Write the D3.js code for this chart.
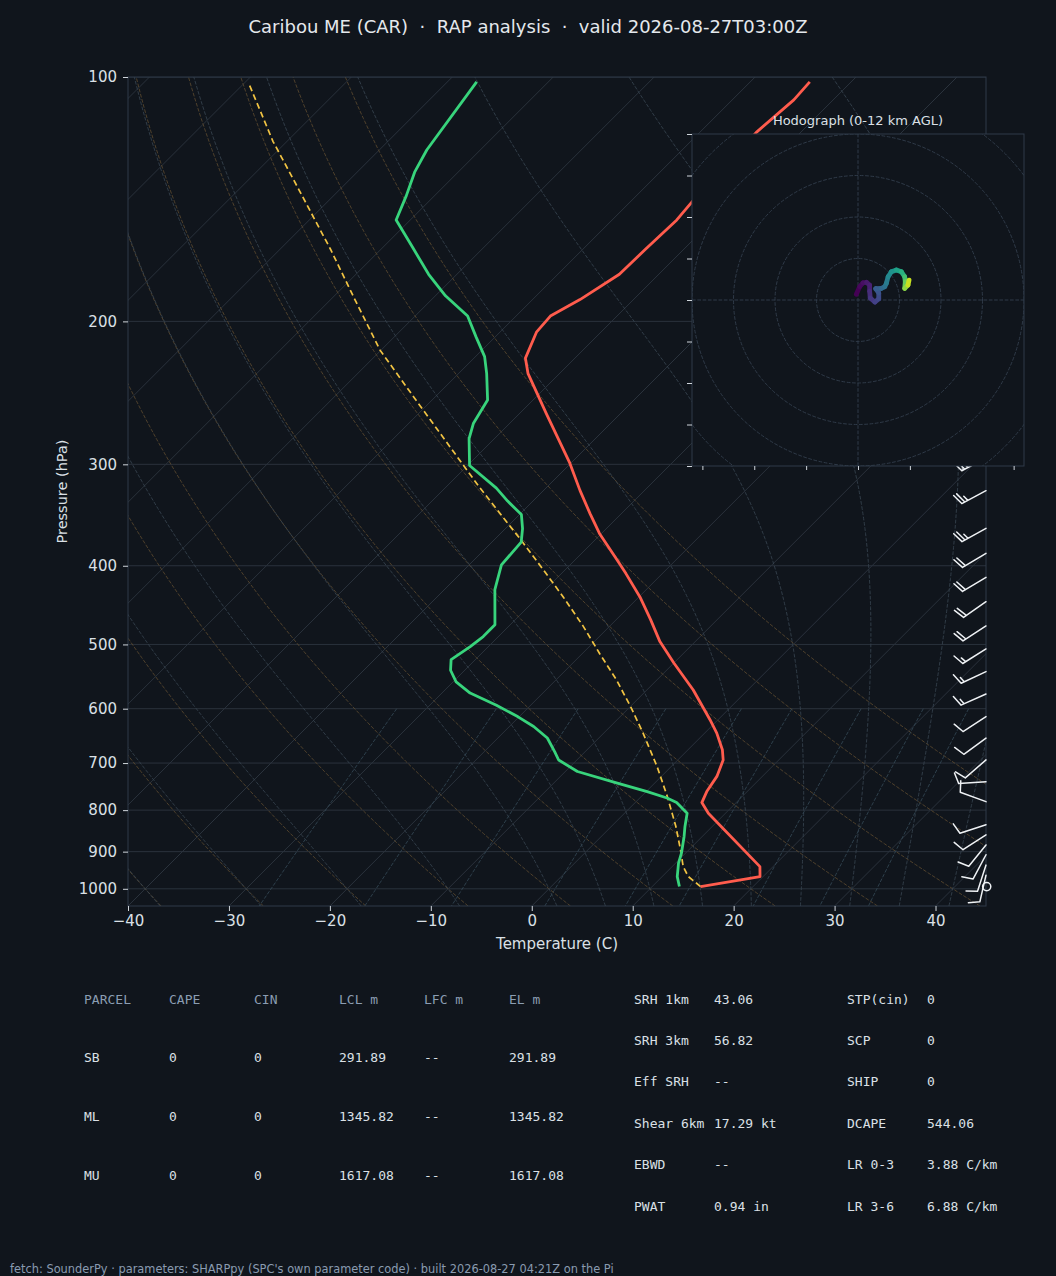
<!DOCTYPE html>
<html>
<head>
<meta charset="utf-8">
<script src="https://cdn.jsdelivr.net/npm/d3@7"></script>
<style>
  body { margin: 0; background: #10151c; }
  svg { display: block; }
</style>
</head>
<body>
<svg id="fig" width="1056" height="1276"></svg>
<script>
// sounding values
const tempP = [993.7, 966, 939, 807, 783, 759, 727, 694, 674, 643, 619, 569, 527, 496, 466, 437, 409, 393, 365, 345,
  323, 299, 260, 232, 222, 206, 197, 188, 175, 163, 150, 142, 129, 117, 106.7, 101.4];
const tempT = [14.8, 19.7, 18.7, 8.3, 6.6, 6.0, 5.5, 4.5, 3.4, 1.2, -0.8, -5.4, -10.0, -13.5, -16.6, -19.9, -23.6, -25.9, -30.2, -33.1,
  -36.4, -40.1, -47.3, -53.1, -54.9, -56.4, -56.6, -55.3, -53.9, -53.8, -53.6, -53.9, -54.2, -54.4, -53.9, -54.1];

const dewP = [993.7, 966, 930, 904, 862, 838, 807, 783, 773, 759, 741, 717, 694, 678, 652, 631, 614, 594, 574, 556,
  538, 522, 503, 489, 473, 428, 399, 374, 360, 346, 333, 321, 301, 279, 267, 250, 232, 221, 209, 197,
  186, 175, 162, 150, 140, 131, 123, 101.4];
const dewT = [12.7, 11.5, 10.3, 9.6, 8.2, 7.3, 6.2, 4.1, 2.7, 0.1, -3.7, -8.8, -11.8, -13.0, -15.1, -17.6, -20.1, -23.4, -27.2, -29.7,
  -31.4, -32.4, -31.8, -31.5, -31.5, -35.0, -36.8, -37.1, -38.3, -39.8, -42.5, -44.9, -49.8, -52.5, -53.6, -54.5, -57.2, -59.1, -61.9, -64.8,
  -69.0, -72.8, -77.1, -81.4, -82.8, -84.3, -85.3, -87.1];

const parcelP = [993.7, 966, 939, 896, 838, 770, 707, 643, 596, 553, 513, 475, 437, 405, 372, 320, 250, 217, 188, 163, 138, 120, 102.3];
const parcelT = [14.8, 12.6, 11.1, 9.2, 6.4, 2.6, -1.4, -6.1, -10.0, -14.0, -18.3, -22.6, -27.5, -32.1, -37.3, -46.7, -61.6, -70.1, -77.6, -85.0, -93.9, -101.4, -109.3];

// wind barbs (direction deg, speed kt)
const barbP = [294.6, 323.3, 359.7, 386.1, 413.3, 442.9, 474.5, 506.5, 540.1, 575.4, 613.6, 652.3, 693.8, 738, 781, 834, 858, 883, 908, 935, 962, 993.7];
const barbDir = [242, 242, 241, 239, 239, 235, 237, 238, 245, 246, 237, 234, 229, 266, 290, 252, 237, 219, 208, 198, 193, 0];
const barbSpd = [25, 25, 25, 20, 20, 20, 20, 15, 15, 15, 10, 10, 10, 10, 10, 10, 10, 10, 10, 10, 10, 0];

// hodograph trace (kt) and height (km)
const hodoU = [-0.8, 0.8, 2.4, 4.1, 5.6, 5.6, 5.9, 8.1, 10.0, 10.0, 8.5, 11.3, 12.9, 13.7, 14.5, 16.1, 18.5, 20.9, 22.5, 22.8, 22.5, 24.1, 24.6];
const hodoV = [2.8, 6.4, 8.3, 8.5, 7.2, 4.3, 1.0, -1.0, 0.5, 3.4, 5.5, 5.6, 6.4, 8.1, 11.2, 13.6, 14.5, 13.6, 11.2, 8.8, 5.6, 7.2, 9.6];
const hodoZ = [0, 0.25, 0.5, 0.8, 1.1, 1.5, 1.9, 2.3, 2.7, 3.1, 3.5, 4.0, 4.5, 5.0, 5.6, 6.2, 6.9, 7.6, 8.4, 9.2, 10.0, 11.0, 12.0];

// ticks
const pTicks = [100, 200, 300, 400, 500, 600, 700, 800, 900, 1000];
const tTicks = [-40, -30, -20, -10, 0, 10, 20, 30, 40];
const hodoYTicks = [-80, -60, -40, -20, 0, 20, 40, 60, 80];
const hodoXTicks = [-75, -50, -25, 0, 25, 50, 75];
const hodoRings = [20, 40, 60, 80, 100];

// background line families
const dryT0 = [-40, -30, -20, -10, 0, 10, 20, 30, 40, 50, 60];
const moistT0 = [-40, -30, -20, -10, 0, 5, 10, 15, 20, 25, 30, 35, 40, 45];
const mixRatios = [0.0004, 0.001, 0.002, 0.004, 0.007, 0.01, 0.016, 0.024, 0.032];

// parameter tables
const parcelHeader = ["PARCEL", "CAPE", "CIN", "LCL m", "LFC m", "EL m"];
const parcelRows = [
  ["SB", "0", "0", "291.89", "--", "291.89"],
  ["ML", "0", "0", "1345.82", "--", "1345.82"],
  ["MU", "0", "0", "1617.08", "--", "1617.08"]
];
const indexLeft = [["SRH 1km", "43.06"], ["SRH 3km", "56.82"], ["Eff SRH", "--"], ["Shear 6km", "17.29 kt"], ["EBWD", "--"], ["PWAT", "0.94 in"]];
const indexRight = [["STP(cin)", "0"], ["SCP", "0"], ["SHIP", "0"], ["DCAPE", "544.06"], ["LR 0-3", "3.88 C/km"], ["LR 3-6", "6.88 C/km"]];

const titleText = "Caribou ME (CAR)  \u00b7  RAP analysis  \u00b7  valid 2026-08-27T03:00Z";
const footerText = "fetch: SounderPy \u00b7 parameters: SHARPpy (SPC's own parameter code) \u00b7 built 2026-08-27 04:21Z on the Pi";

const W = 1056, H = 1276;
const BG = "#10151c";
const SPINE = "#2f3a48";
const TXT = "#dbe0e6";
const SANS = "DejaVu Sans, sans-serif";
const MONO = "DejaVu Sans Mono, monospace";

const svg = d3.select("#fig");
svg.append("rect").attr("width", W).attr("height", H).attr("fill", BG);

// skew-T scales
const x = d3.scaleLinear().domain([-40, 45]).range([128, 986]);
const y = d3.scaleLog().domain([1050, 100]).range([906, 77]);
const x0 = x.range()[0], x1 = x.range()[1], yB = y.range()[0], yT = y.range()[1];
const sx = (T, p) => x(T) + (yB - y(p)); // isotherms at 45 degrees

const defs = svg.append("defs");
defs.append("clipPath").attr("id", "skewClip").append("rect")
  .attr("x", x0).attr("y", yT).attr("width", x1 - x0).attr("height", yB - yT);

const line = d3.line().x(d => sx(d[1], d[0])).y(d => y(d[0]));

// thermodynamics for the reference lines
const Rd = 287.04749, Lv = 2.50084e6, Cp = 1004.6662, eps = 0.622;
const es = Tk => 6.112 * Math.exp(17.67 * (Tk - 273.15) / (Tk - 29.65));
function dTdp(p, Tk) {
  const e = es(Tk), rs = eps * e / (p - e);
  return ((Rd * Tk + Lv * rs) / (Cp + Lv * Lv * rs * eps / (Rd * Tk * Tk))) / p;
}
function rk4(p, T, h) {
  const k1 = dTdp(p, T), k2 = dTdp(p + h / 2, T + h * k1 / 2),
        k3 = dTdp(p + h / 2, T + h * k2 / 2), k4 = dTdp(p + h, T + h * k3);
  return T + h * (k1 + 2 * k2 + 2 * k3 + k4) / 6;
}
function moistAdiabat(t0) {
  const down = [];
  let p = 1000, T = t0 + 273.15;
  while (p < 1050) { T = rk4(p, T, 5); p += 5; down.push([p, T - 273.15]); }
  const up = [[1000, t0]];
  p = 1000; T = t0 + 273.15;
  while (p > 100) { T = rk4(p, T, -5); p -= 5; up.push([p, T - 273.15]); }
  return down.reverse().concat(up);
}
const pLevels = d3.range(0, 81).map(i => 1050 * Math.pow(100 / 1050, i / 80));

const bgLines = svg.append("g").attr("clip-path", "url(#skewClip)");

// pressure grid
bgLines.selectAll(".pgrid").data(pTicks).join("line")
  .attr("x1", x0).attr("x2", x1).attr("y1", d => y(d)).attr("y2", d => y(d))
  .attr("stroke", "#2a323c").attr("stroke-width", 1);

// isotherms
bgLines.selectAll(".iso").data(d3.range(-150, 50, 10)).join("line")
  .attr("x1", d => sx(d, 1050)).attr("y1", yB).attr("x2", d => sx(d, 100)).attr("y2", yT)
  .attr("stroke", "#2a323c").attr("stroke-width", 1);

// dry adiabats
bgLines.selectAll(".dry").data(dryT0).join("path")
  .attr("d", t0 => line(pLevels.map(p => [p, (t0 + 273.15) * Math.pow(p / 1000, Rd / Cp) - 273.15])))
  .attr("fill", "none").attr("stroke", "#5e4b30").attr("stroke-width", 1)
  .attr("stroke-dasharray", "3.7,1.6").attr("opacity", 0.8);

// moist adiabats
bgLines.selectAll(".moist").data(moistT0).join("path")
  .attr("d", t0 => line(moistAdiabat(t0)))
  .attr("fill", "none").attr("stroke", "#36434f").attr("stroke-width", 1)
  .attr("stroke-dasharray", "3.7,1.6").attr("opacity", 0.85);

// mixing ratio lines
const mixLevels = d3.range(0, 21).map(i => 600 + i * 22.5);
bgLines.selectAll(".mix").data(mixRatios).join("path")
  .attr("d", w => line(mixLevels.map(p => {
    const e = p * w / (eps + w), l = Math.log(e / 6.112);
    return [p, 243.5 * l / (17.67 - l)];
  })))
  .attr("fill", "none").attr("stroke", "#334753").attr("stroke-width", 1)
  .attr("stroke-dasharray", "3.7,1.6").attr("opacity", 0.85);

// profiles
const prof = svg.append("g").attr("clip-path", "url(#skewClip)");
prof.append("path").attr("d", line(parcelP.map((p, i) => [p, parcelT[i]])))
  .attr("fill", "none").attr("stroke", "#f2c443").attr("stroke-width", 1.7).attr("stroke-dasharray", "6,3.5");
prof.append("path").attr("d", line(tempP.map((p, i) => [p, tempT[i]])))
  .attr("fill", "none").attr("stroke", "#ff5c4d").attr("stroke-width", 2.8).attr("stroke-linejoin", "round");
prof.append("path").attr("d", line(dewP.map((p, i) => [p, dewT[i]])))
  .attr("fill", "none").attr("stroke", "#38d47c").attr("stroke-width", 2.8).attr("stroke-linejoin", "round");

// spines
svg.append("rect").attr("x", x0).attr("y", yT).attr("width", x1 - x0).attr("height", yB - yT)
  .attr("fill", "none").attr("stroke", SPINE).attr("stroke-width", 1);

// axes (font set after the axis call, which resets it)
function styleAxis(g) {
  g.attr("font-size", 15).attr("font-family", SANS);
  g.select(".domain").remove();
  g.selectAll(".tick line").attr("stroke", "#cfd5db");
  g.selectAll(".tick text").attr("fill", TXT);
}
svg.append("g").attr("transform", `translate(${x0},0)`)
  .call(d3.axisLeft(y).tickValues(pTicks).tickFormat(d3.format("d")).tickSize(5).tickPadding(6))
  .call(styleAxis);
svg.append("g").attr("transform", `translate(0,${yB})`)
  .call(d3.axisBottom(x).tickValues(tTicks).tickSize(5).tickPadding(4))
  .call(styleAxis);

svg.append("text").attr("transform", `translate(63,${(yT + yB) / 2}) rotate(-90)`)
  .attr("text-anchor", "middle").attr("dominant-baseline", "middle")
  .attr("font-family", SANS).attr("font-size", 14.5).attr("fill", TXT).text("Pressure (hPa)");
svg.append("text").attr("x", (x0 + x1) / 2).attr("y", 949)
  .attr("text-anchor", "middle").attr("font-family", SANS).attr("font-size", 15).attr("fill", TXT)
  .text("Temperature (C)");

// wind barbs at the right edge
function barbPath(bx, by, dir, spd) {
  const L = 27.4, Hh = 0.4 * L, Ww = 0.25 * L, sp = 0.125 * L;
  const b = dir * Math.PI / 180;
  const s = [Math.sin(b), -Math.cos(b)];
  const side = [Math.cos(b), Math.sin(b)];
  const P = d => [bx + s[0] * d, by + s[1] * d];
  const r5 = 5 * Math.round(spd / 5);
  const full = Math.floor((r5 % 50) / 10), half = (r5 % 10) >= 5;
  let path = `M${bx},${by}L${P(L).join(",")}`;
  let o = L;
  for (let i = 0; i < full; i++) {
    const a = P(o), e = P(o + Ww / 2);
    path += `M${a.join(",")}L${e[0] + side[0] * Hh},${e[1] + side[1] * Hh}`;
    o -= sp;
  }
  if (half) {
    if (o === L) o -= 1.5 * sp;
    const a = P(o), e = P(o + Ww / 4);
    path += `M${a.join(",")}L${e[0] + side[0] * Hh / 2},${e[1] + side[1] * Hh / 2}`;
  }
  return path;
}
const barbs = svg.append("g").attr("stroke", "#eef1f4").attr("stroke-width", 1.5).attr("fill", "none")
  .attr("stroke-linecap", "round");
barbP.forEach((p, i) => {
  if (Math.round(barbSpd[i] / 5) === 0) {
    barbs.append("circle").attr("cx", x1 + 0.7).attr("cy", y(p)).attr("r", 4.1);
  } else {
    barbs.append("path").attr("d", barbPath(x1, y(p), barbDir[i], barbSpd[i]));
  }
});

// hodograph inset
const hx = d3.scaleLinear().domain([-80, 80]).range([692, 1024]);
const hy = d3.scaleLinear().domain([-80, 80]).range([466, 134]);
defs.append("clipPath").attr("id", "hodoClip").append("rect")
  .attr("x", hx(-80)).attr("y", hy(80)).attr("width", hx(80) - hx(-80)).attr("height", hy(-80) - hy(80));
const hodo = svg.append("g");
hodo.append("rect").attr("x", hx(-80)).attr("y", hy(80)).attr("width", hx(80) - hx(-80)).attr("height", hy(-80) - hy(80))
  .attr("fill", BG);
const hgrid = hodo.append("g").attr("clip-path", "url(#hodoClip)")
  .attr("stroke", "#2f3a48").attr("stroke-width", 1).attr("stroke-dasharray", "3.7,1.6").attr("fill", "none");
hgrid.selectAll("circle").data(hodoRings).join("circle")
  .attr("cx", hx(0)).attr("cy", hy(0)).attr("r", d => hx(d) - hx(0));
hgrid.append("line").attr("x1", hx(-80)).attr("x2", hx(80)).attr("y1", hy(0)).attr("y2", hy(0));
hgrid.append("line").attr("x1", hx(0)).attr("x2", hx(0)).attr("y1", hy(-80)).attr("y2", hy(80));

const hodoPts = hodoU.map((u, i) => [u, hodoV[i], hodoZ[i]]);
hodo.append("g").attr("clip-path", "url(#hodoClip)")
  .selectAll("line").data(d3.pairs(hodoPts)).join("line")
  .attr("x1", d => hx(d[0][0])).attr("y1", d => hy(d[0][1]))
  .attr("x2", d => hx(d[1][0])).attr("y2", d => hy(d[1][1]))
  .attr("stroke", d => d3.interpolateViridis(d[0][2] / 12))
  .attr("stroke-width", 4.8).attr("stroke-linecap", "round");

hodo.append("rect").attr("x", hx(-80)).attr("y", hy(80)).attr("width", hx(80) - hx(-80)).attr("height", hy(-80) - hy(80))
  .attr("fill", "none").attr("stroke", SPINE).attr("stroke-width", 1);
hodo.append("g").attr("transform", `translate(${hx(-80)},0)`)
  .call(d3.axisLeft(hy).tickValues(hodoYTicks).tickFormat("").tickSize(5))
  .call(styleAxis);
hodo.append("g").attr("transform", `translate(0,${hy(-80)})`)
  .call(d3.axisBottom(hx).tickValues(hodoXTicks).tickFormat("").tickSize(4))
  .call(styleAxis);
hodo.append("text").attr("x", hx(0)).attr("y", 124.5).attr("text-anchor", "middle")
  .attr("font-family", SANS).attr("font-size", 13).attr("fill", TXT).text("Hodograph (0-12 km AGL)");

// title
svg.append("text").attr("x", W / 2).attr("y", 33).attr("text-anchor", "middle")
  .attr("font-family", SANS).attr("font-size", 18).attr("fill", "#e4e8ec")
  .style("white-space", "pre").text(titleText);

// parcel table
const colX = [84, 169, 254, 339, 424, 509];
const rowY = [1000, 1058.5, 1117, 1176];
const tbl = svg.append("g").attr("font-family", MONO).attr("font-size", 13).attr("dominant-baseline", "middle");
parcelHeader.forEach((h, j) => {
  tbl.append("text").attr("x", colX[j]).attr("y", rowY[0]).attr("fill", "#8b9db2").text(h);
});
parcelRows.forEach((r, i) => r.forEach((c, j) => {
  tbl.append("text").attr("x", colX[j]).attr("y", rowY[i + 1]).attr("fill", TXT).text(c);
}));

// index columns
const idxY = d3.range(6).map(i => 1000 + i * 41.4);
const idx = svg.append("g").attr("font-family", MONO).attr("font-size", 13).attr("dominant-baseline", "middle").attr("fill", TXT);
indexLeft.forEach((r, i) => {
  idx.append("text").attr("x", 634).attr("y", idxY[i]).text(r[0]);
  idx.append("text").attr("x", 714).attr("y", idxY[i]).text(r[1]);
});
indexRight.forEach((r, i) => {
  idx.append("text").attr("x", 847).attr("y", idxY[i]).text(r[0]);
  idx.append("text").attr("x", 927).attr("y", idxY[i]).text(r[1]);
});

// footer
svg.append("text").attr("x", 10).attr("y", 1273).attr("font-family", SANS).attr("font-size", 11.4)
  .attr("fill", "#8a9bb0").text(footerText);
</script>
</body>
</html>
